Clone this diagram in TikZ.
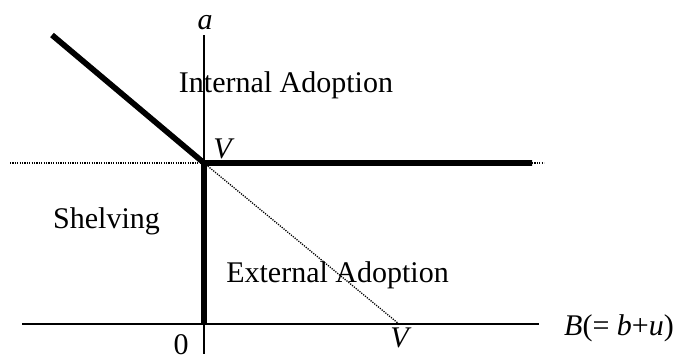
\documentclass[tikz,border=0pt]{standalone}
\usepackage{fontspec}
\setmainfont{Liberation Serif}
\begin{document}
\begin{tikzpicture}[x=1pt,y=-1pt,
  axis/.style={line width=1.5pt},
  bold/.style={line width=5.7pt},
  dots/.style={line width=1.3pt,dash pattern=on 1.2pt off 1.2pt},
  lbl/.style={inner sep=0pt,anchor=base,font=\fontsize{30}{34}\selectfont}]
\useasboundingbox (0,0) rectangle (682,354);
\coordinate (atop) at (204,35);
\coordinate (abot) at (204,354);
\coordinate (bleft) at (22,324);
\coordinate (bright) at (539,324);
\coordinate (V) at (204,163);
\coordinate (O) at (204,324);
\coordinate (tl) at (52,35);
\coordinate (hr) at (532,163);
\coordinate (hrd) at (544,163);
\coordinate (hl) at (10,163);
\coordinate (Vb) at (399,324);
\draw[axis] (atop) -- (abot);
\draw[axis] (bleft) -- (bright);
\draw[dots] (hl) -- (V);
\draw[dots] (hr) -- (hrd);
\draw[dots] (V) -- (Vb);
\draw[bold,line join=miter] (tl) -- (V) -- (hr);
\draw[bold] (V) -- (O);
\node[lbl] (la) at (205,29) {\textit{a}};
\node[lbl] (lint) at (286,92) {Internal Adoption};
\node[lbl] (lV) at (224,158) {\textit{V}};
\node[lbl] (lsh) at (106.5,228) {Shelving};
\node[lbl] (lext) at (337.5,282) {External Adoption};
\node[lbl,anchor=base west] (lB) at (564,335) {\textit{B}(= \textit{b}+\textit{u})};
\node[lbl] (l0) at (181,354) {0};
\node[lbl] (lVb) at (401,347) {\textit{V}};
\end{tikzpicture}
\end{document}
